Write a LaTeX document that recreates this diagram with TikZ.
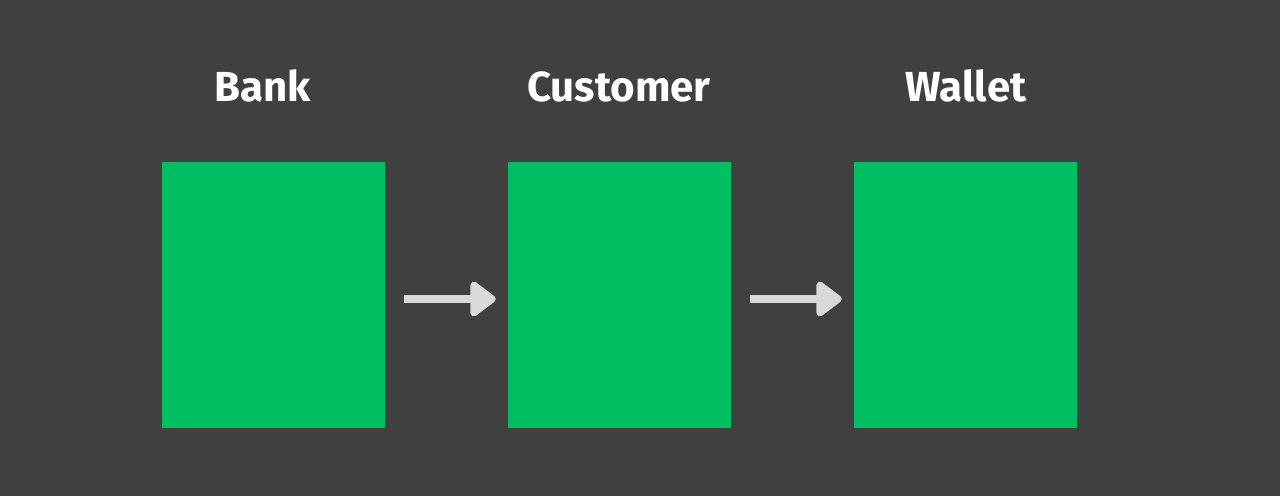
\documentclass[tikz,border=0pt]{standalone}
\usepackage{fontspec}
\setmainfont{Fira Sans}
\usetikzlibrary{arrows.meta}
\definecolor{bg}{HTML}{404040}
\definecolor{boxgreen}{HTML}{00BF63}
\definecolor{arrowgray}{HTML}{D9D9D9}
\tikzset{
  greenbox/.style={fill=boxgreen, draw=none, minimum width=223pt, minimum height=266pt, inner sep=0pt},
  title/.style={text=white, font=\fontsize{42}{48}\selectfont\bfseries, anchor=base, inner sep=0pt},
  flow/.style={draw=arrowgray, line width=8pt, -{Triangle[length=28pt, width=40pt, round]}, shorten <=19pt, shorten >=12pt}
}
\begin{document}
\begin{tikzpicture}[x=1pt,y=-1pt]
\useasboundingbox (0,0) rectangle (1280,496);
\fill[bg] (0,0) rectangle (1280,496);
\node[greenbox] (bank) at (273.5,295) {};
\node[greenbox] (cust) at (619.5,295) {};
\node[greenbox] (wallet) at (965.5,295) {};
\node[title] (tbank) at (263,101) {Bank};
\node[title] (tcust) at (619,101) {Customer};
\node[title] (twallet) at (966,101) {Wallet};
\draw[flow] ([yshift=-4pt]bank.east) -- ([yshift=-4pt]cust.west);
\draw[flow] ([yshift=-4pt]cust.east) -- ([yshift=-4pt]wallet.west);
\end{tikzpicture}
\end{document}
